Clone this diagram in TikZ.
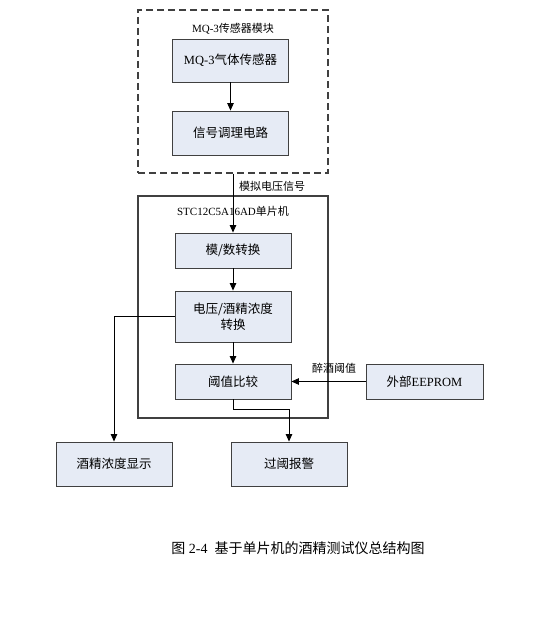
\documentclass[tikz,border=0pt]{standalone}
\usepackage{fontspec}
\setmainfont{Liberation Serif}
\newfontfamily\cjk{Noto Sans CJK SC}
\usetikzlibrary{arrows.meta}
\definecolor{boxfill}{HTML}{E6EBF5}
\definecolor{edge}{HTML}{404040}
\begin{document}
\begin{tikzpicture}[x=1pt,y=-1pt,
  blk/.style={draw=edge, fill=boxfill, line width=0.9pt, minimum width=116pt, minimum height=35pt, font=\fontsize{12.5}{15}\selectfont, align=center, inner sep=0pt},
  lbl/.style={font=\fontsize{11}{13}\selectfont, inner sep=0pt},
  arr/.style={-{Triangle[length=7.5pt,width=6.5pt]}, line width=0.8pt}]
\useasboundingbox (0,0) rectangle (558,618);
% outer frames
\node[draw=edge, dashed, dash pattern=on 7pt off 4pt, line width=1.1pt, minimum width=190pt, minimum height=163pt, inner sep=0pt] (mod) at (233,91.5) {};
\node[draw=edge, line width=1.2pt, minimum width=190pt, minimum height=222pt, inner sep=0pt] (mcu) at (233,307) {};
\node[lbl] (modlbl) at (233,29) {MQ-3{\cjk 传感器模块}};
\node[lbl] (mculbl) at (233,211) {STC12C5A16AD{\cjk 单片机}};
% blocks
\node[blk, minimum height=43pt] (sens) at (230.5,60.5) {MQ-3{\cjk 气体传感器}};
\node[blk, minimum height=44pt] (cond) at (230.5,133) {\cjk 信号调理电路};
\node[blk] (ad) at (233,250.5) {\cjk 模/数转换};
\node[blk, minimum height=51pt] (conv) at (233,316.5) {\cjk 电压/酒精浓度\\[1pt]\cjk 转换};
\node[blk] (cmp) at (233,381.5) {\cjk 阈值比较};
\node[blk, minimum width=117pt] (eep) at (424.5,381.5) {{\cjk 外部}EEPROM};
\node[blk, minimum height=44pt] (disp) at (114,464) {\cjk 酒精浓度显示};
\node[blk, minimum height=44pt] (alarm) at (289,464) {\cjk 过阈报警};
% labels
\node[lbl, anchor=west] (vlbl) at (239,186) {\cjk 模拟电压信号};
\node[lbl] (tlbl) at (334,368) {\cjk 醉酒阈值};
% connectors
\draw[arr] (sens.south) -- (cond.north);
\draw[arr] (mod.south) -- (ad.north);
\draw[arr] (ad.south) -- (conv.north);
\draw[arr] (conv.south) -- (cmp.north);
\draw[arr] (eep.west) -- (cmp.east);
\draw[arr] (conv.west) -| (disp.north);
\draw[arr] (cmp.south) -- ++(0,10) -| (alarm.north);
% caption
\node[font=\fontsize{14}{16}\selectfont, inner sep=0pt] (cap) at (298,548) {{\cjk 图} 2-4\ \ {\cjk 基于单片机的酒精测试仪总结构图}};
\end{tikzpicture}
\end{document}
